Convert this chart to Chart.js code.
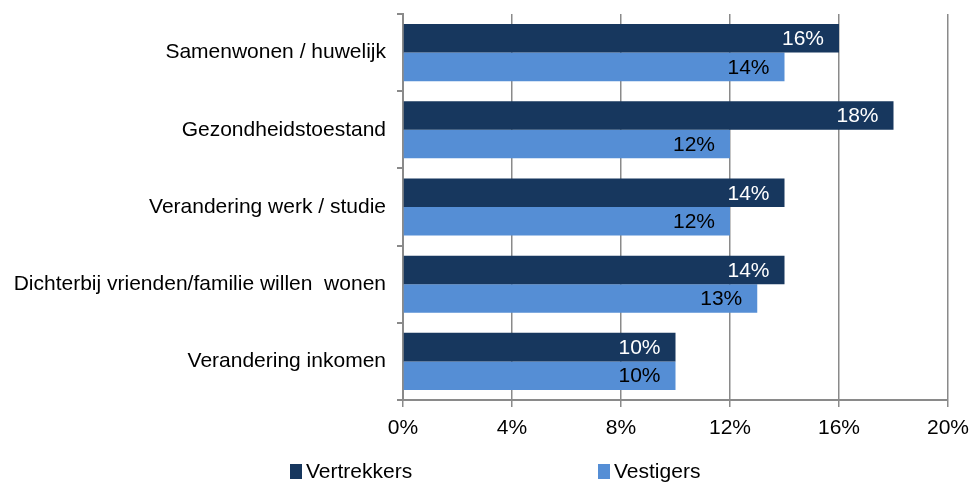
<!DOCTYPE html>
<html>
<head>
<meta charset="utf-8">
<script src="https://cdn.jsdelivr.net/npm/chart.js@4/dist/chart.umd.min.js"></script>
<style>
  body { margin: 0; background: #fff; }
  #wrap { position: relative; width: 975px; height: 482px; }
  .leg { position: absolute; top: 459px; font: 21px "Liberation Sans", Arial, sans-serif; color: #000; white-space: nowrap; }
  .leg i { display: inline-block; width: 12px; height: 15px; margin-right: 4px; vertical-align: -1px; }
</style>
</head>
<body>
<div id="wrap">
  <canvas id="canvas" width="975" height="482"></canvas>
  <div class="leg" style="left:290px"><i style="background:#17375E"></i>Vertrekkers</div>
  <div class="leg" style="left:598px"><i style="background:#558ED5"></i>Vestigers</div>
</div>
<script>
// categorieen en waarden (in procenten)
const categorieen = ['Samenwonen / huwelijk', 'Gezondheidstoestand', 'Verandering werk / studie', 'Dichterbij vrienden/familie willen  wonen', 'Verandering inkomen'];
const vertrekkers = [16, 18, 14, 14, 10];
const vestigers = [14, 12, 12, 13, 10];
const xTicks = [0, 4, 8, 12, 16, 20];

const font = { family: '"Liberation Sans", Arial, sans-serif', size: 21 };

/* labels in de balken */
const labelPlugin = {
  id: 'barLabels',
  afterDatasetsDraw(chart) {
    const ctx = chart.ctx;
    ctx.save();
    ctx.font = font.size + 'px ' + font.family;
    ctx.textAlign = 'right';
    ctx.textBaseline = 'middle';
    chart.data.datasets.forEach(function(ds, i) {
      const meta = chart.getDatasetMeta(i);
      ctx.fillStyle = i == 0 ? '#ffffff' : '#000000';
      meta.data.forEach(function(bar, j) {
        ctx.fillText(ds.data[j] + '%', bar.x - 15, bar.y + 1);
      });
    });
    ctx.restore();
  }
};

new Chart(document.getElementById('canvas'), {
  type: 'bar',
  data: {
    labels: categorieen,
    datasets: [{
      label: 'Vertrekkers',
      data: vertrekkers,
      backgroundColor: '#17375E',
      categoryPercentage: 0.74,
      barPercentage: 1
    }, {
      label: 'Vestigers',
      data: vestigers,
      backgroundColor: '#558ED5',
      categoryPercentage: 0.74,
      barPercentage: 1
    }]
  },
  options: {
    indexAxis: 'y',
    responsive: false,
    animation: false,
    layout: { padding: { top: 14, right: 27, left: 0, bottom: 0 } },
    plugins: { legend: { display: false }, tooltip: { enabled: false } },
    scales: {
      x: {
        min: 0,
        max: 20,
        afterBuildTicks: function(scale) {
          scale.ticks = xTicks.map(function(v) { return { value: v }; });
        },
        afterFit: function(scale) {
          scale.height = 82;
          scale.paddingLeft = 0;
          scale.paddingRight = 0;
        },
        ticks: { color: '#000', font: font, padding: 9, callback: function(v) { return v + '%'; } },
        grid: { color: '#8a8a8a', lineWidth: 1.5, tickLength: 7 },
        border: { color: '#8a8a8a', width: 2 }
      },
      y: {
        afterFit: function(scale) {
          scale.width = 403;
          scale.paddingTop = 0;
          scale.paddingBottom = 0;
        },
        ticks: { color: '#000', font: font, padding: 11 },
        grid: { drawOnChartArea: false, offset: true, color: '#8a8a8a', lineWidth: 2, tickLength: 6 },
        border: { color: '#8a8a8a', width: 2 }
      }
    }
  },
  plugins: [labelPlugin]
});
</script>
</body>
</html>
